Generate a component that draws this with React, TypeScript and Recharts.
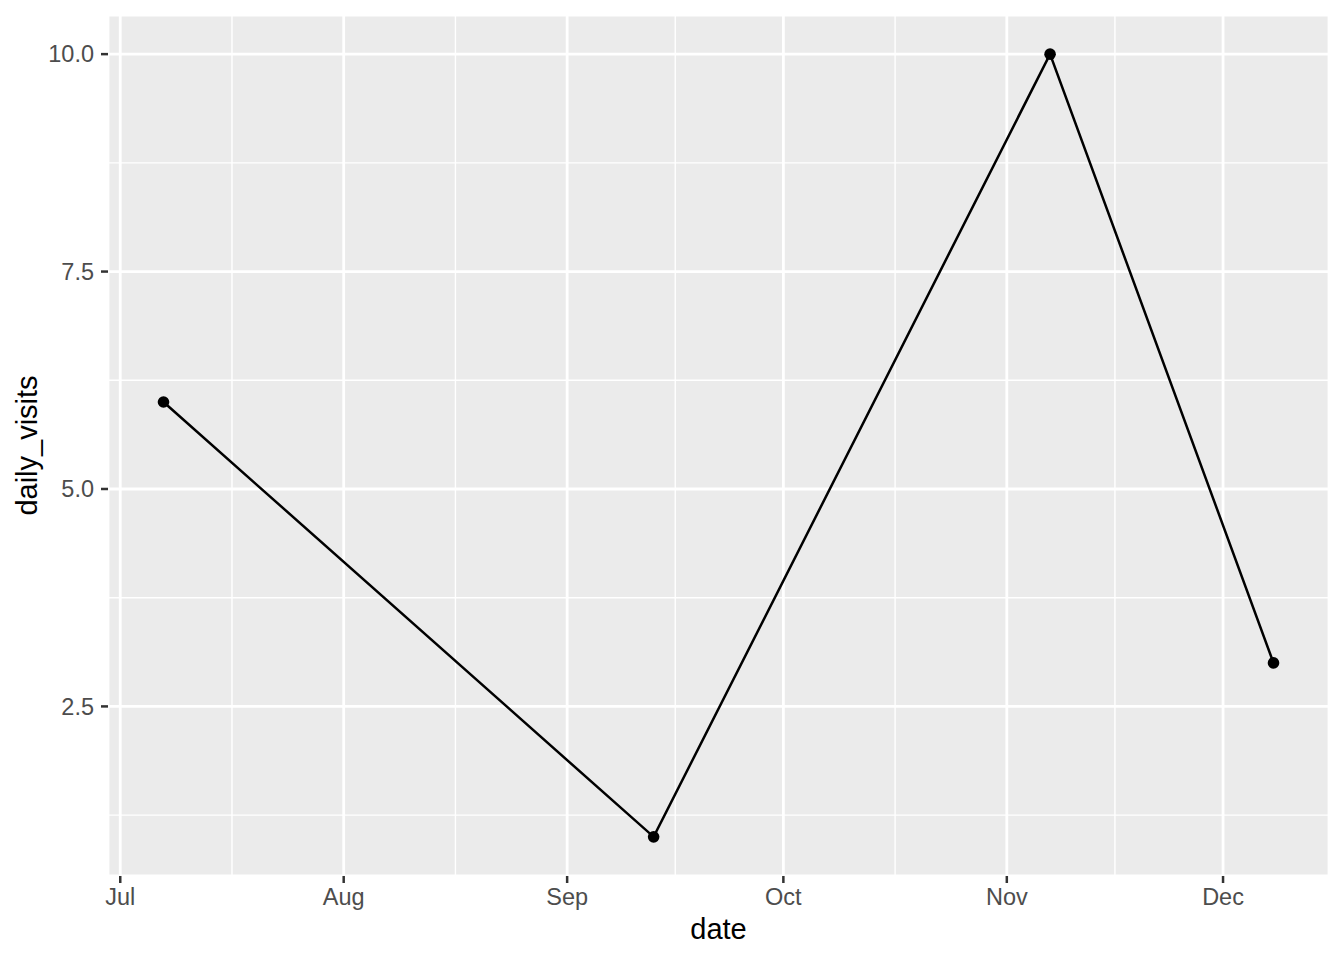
import React from "react";
import { LineChart, Line, XAxis, YAxis, CartesianGrid, ReferenceLine, Label } from "recharts";

// visits per date
const dates = ["2023-07-07", "2023-09-13", "2023-11-07", "2023-12-08"];
const dailyVisits = [6, 1, 10, 3];

const monthTicks = ["2023-07-01", "2023-08-01", "2023-09-01", "2023-10-01", "2023-11-01", "2023-12-01"];
const monthLabels = ["Jul", "Aug", "Sep", "Oct", "Nov", "Dec"];

const yTicks = [2.5, 5, 7.5, 10];
const yMinor = [1.25, 3.75, 6.25, 8.75];

const toDay = (s: string) => Date.parse(s + "T00:00:00Z") / 86400000;

const data = dates.map((d, i) => ({ t: toDay(d), daily_visits: dailyVisits[i] }));

const xTickValues = monthTicks.map(toDay);
// minor grid at midpoints between month breaks
const xMinor = xTickValues.slice(1).map((v, i) => (v + xTickValues[i]) / 2);

// ggplot-like 5% expansion
const tMin = Math.min(...data.map((d) => d.t));
const tMax = Math.max(...data.map((d) => d.t));
const xPad = (tMax - tMin) * 0.05;
const vMin = Math.min(...dailyVisits);
const vMax = Math.max(...dailyVisits);
const yPad = (vMax - vMin) * 0.05;

const tickStyle = { fill: "#4D4D4D", fontSize: 23.5 };

export default function App() {
  return (
    <div style={{ position: "absolute", left: 0, top: 0, fontFamily: "'Liberation Sans', Arial, sans-serif" }}>
      <LineChart width={1344} height={960} data={data} margin={{ top: 15, right: 15, bottom: 24, left: 0 }}>
        <CartesianGrid fill="#EBEBEB" stroke="#FFFFFF" strokeWidth={2.8} />
        {xMinor.map((x) => (
          <ReferenceLine key={"x" + x} x={x} stroke="#FFFFFF" strokeWidth={1.4} />
        ))}
        {yMinor.map((y) => (
          <ReferenceLine key={"y" + y} y={y} stroke="#FFFFFF" strokeWidth={1.4} />
        ))}
        <XAxis
          dataKey="t"
          type="number"
          domain={[tMin - xPad, tMax + xPad]}
          ticks={xTickValues}
          tickFormatter={(v: number) => monthLabels[xTickValues.indexOf(v)] ?? ""}
          axisLine={false}
          tickLine={{ stroke: "#333333", strokeWidth: 2.5 }}
          tickSize={7}
          tickMargin={5}
          tick={tickStyle}
          height={60}
          interval={0}
        >
          <Label
            content={({ viewBox }: any) => (
              <text x={viewBox.x + viewBox.width / 2} y={939} textAnchor="middle" fontSize={29} fill="#000000">
                date
              </text>
            )}
          />
        </XAxis>
        <YAxis
          type="number"
          domain={[vMin - yPad, vMax + yPad]}
          ticks={yTicks}
          tickFormatter={(v: number) => v.toFixed(1)}
          axisLine={false}
          tickLine={{ stroke: "#333333", strokeWidth: 2.5 }}
          tickSize={7}
          tickMargin={7}
          tick={tickStyle}
          width={108}
          interval={0}
        >
          <Label
            content={({ viewBox }: any) => {
              const cy = viewBox.y + viewBox.height / 2;
              return (
                <text x={37} y={cy} transform={`rotate(-90, 37, ${cy})`} textAnchor="middle" fontSize={29} fill="#000000">
                  daily_visits
                </text>
              );
            }}
          />
        </YAxis>
        <Line
          type="linear"
          dataKey="daily_visits"
          stroke="#000000"
          strokeWidth={2.5}
          dot={{ r: 5.8, fill: "#000000", stroke: "none" }}
          activeDot={false}
          isAnimationActive={false}
        />
      </LineChart>
    </div>
  );
}
